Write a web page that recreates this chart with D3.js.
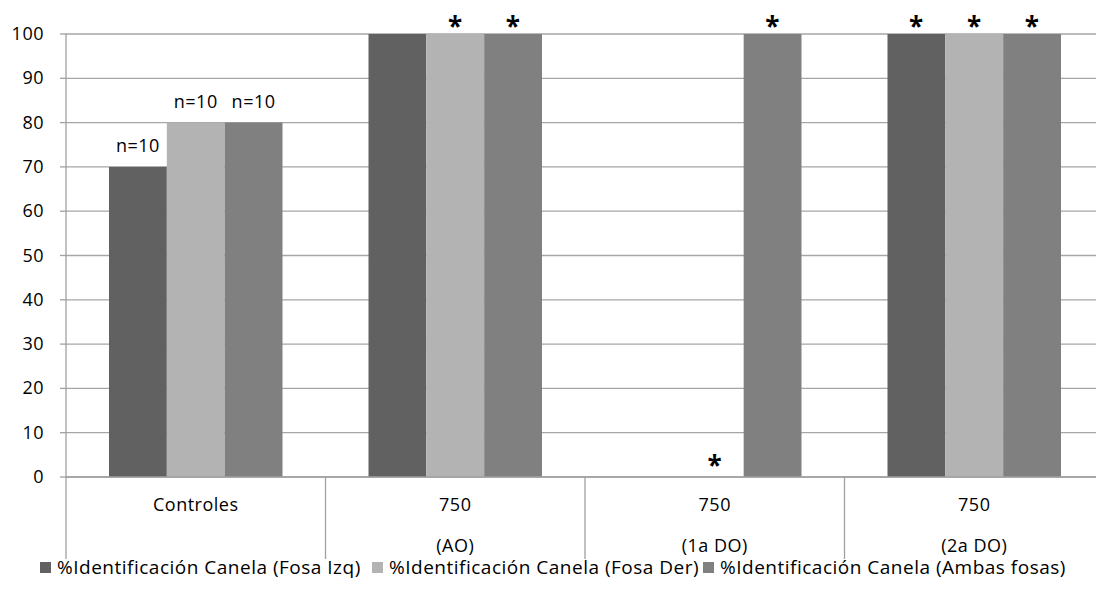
<!doctype html>
<html>
  <head>
    <meta charset="utf-8">
    <script src="https://cdnjs.cloudflare.com/ajax/libs/d3/7.8.5/d3.min.js"></script>
    <style>
      body { margin: 0; background: #fff; }
      text { font-family: "Open Sans", sans-serif; fill: #000; letter-spacing: 0.5px; }
    </style>
  </head>
  <body>
    <svg width="1096" height="603"></svg>
    <script>
        // categories (two-line labels) and series
        var categories = ["Controles", "750 (AO)", "750 (1a DO)", "750 (2a DO)"];
        var catLine1 = ["Controles", "750", "750", "750"];
        var catLine2 = ["", "(AO)", "(1a DO)", "(2a DO)"];
        var seriesNames = ["%Identificación Canela (Fosa Izq)",
                           "%Identificación Canela (Fosa Der)",
                           "%Identificación Canela (Ambas fosas)"];
        var fosaIzq    = [70, 100, 0, 100];
        var fosaDer    = [80, 100, 0, 100];
        var ambasFosas = [80, 100, 100, 100];
        var labelsIzq   = ["n=10", "", "", "*"];
        var labelsDer   = ["n=10", "*", "*", "*"];
        var labelsAmbas = ["n=10", "*", "*", "*"];
        var yTicks = [0, 10, 20, 30, 40, 50, 60, 70, 80, 90, 100];
        var colours = ["#616161", "#b3b3b3", "#808080"];

        var allValues = [fosaIzq, fosaDer, ambasFosas];
        var allLabels = [labelsIzq, labelsDer, labelsAmbas];

        var svg = d3.select("svg");
        var plotLeft = 66, plotRight = 1104, plotTop = 34, plotBottom = 477;

        var x0 = d3.scaleBand().domain(categories).range([plotLeft, plotRight]);
        var x1 = d3.scaleBand().domain([0, 1, 2]).range([43, x0.bandwidth() - 43]);
        var y = d3.scaleLinear().domain([0, 100]).range([plotBottom, plotTop]);

        // gridlines
        svg.append("g")
            .selectAll("line")
            .data(yTicks)
            .enter()
            .append("line")
                .attr("x1", plotLeft).attr("x2", plotRight)
                .attr("y1", d => y(d)).attr("y2", d => y(d))
                .attr("stroke", "#a6a6a6").attr("stroke-width", 1.3);

        // bars
        var rows = [];
        categories.forEach((c, i) => {
            allValues.forEach((s, j) => rows.push({cat: c, s: j, v: s[i], label: allLabels[j][i]}));
        });

        svg.append("g")
            .selectAll("rect")
            .data(rows)
            .enter()
            .append("rect")
                .attr("x", d => x0(d.cat) + x1(d.s))
                .attr("y", d => y(d.v))
                .attr("width", x1.bandwidth())
                .attr("height", d => y(0) - y(d.v))
                .style("fill", d => colours[d.s]);

        // data labels
        svg.append("g")
            .selectAll("text")
            .data(rows.filter(d => d.label))
            .enter()
            .append("text")
                .attr("x", d => x0(d.cat) + x1(d.s) + x1.bandwidth() / 2)
                .attr("y", d => d.label == "*" ? y(d.v) + (d.v == 0 ? -2 : 2) : y(d.v) - 15)
                .attr("text-anchor", "middle")
                .style("font-size", d => d.label == "*" ? "26px" : "18px")
                .style("font-weight", d => d.label == "*" ? "bold" : "normal")
                .text(d => d.label);

        // y axis
        svg.append("line")
            .attr("x1", plotLeft).attr("x2", plotLeft)
            .attr("y1", plotTop).attr("y2", plotBottom)
            .attr("stroke", "#a0a0a0").attr("stroke-width", 1.3);
        svg.append("g")
            .selectAll("line")
            .data(yTicks)
            .enter()
            .append("line")
                .attr("x1", plotLeft - 6).attr("x2", plotLeft)
                .attr("y1", d => y(d)).attr("y2", d => y(d))
                .attr("stroke", "#a0a0a0").attr("stroke-width", 1.3);
        svg.append("g")
            .selectAll("text")
            .data(yTicks)
            .enter()
            .append("text")
                .attr("x", 44)
                .attr("y", d => y(d) + 6)
                .attr("text-anchor", "end")
                .style("font-size", "18px")
                .text(d => d);

        // x axis with category separators
        svg.append("line")
            .attr("x1", plotLeft).attr("x2", plotRight)
            .attr("y1", plotBottom).attr("y2", plotBottom)
            .attr("stroke", "#a0a0a0").attr("stroke-width", 1.3);
        svg.append("g")
            .selectAll("line")
            .data(categories)
            .enter()
            .append("line")
                .attr("x1", d => x0(d)).attr("x2", d => x0(d))
                .attr("y1", plotBottom).attr("y2", 559)
                .attr("stroke", "#a0a0a0").attr("stroke-width", 1.3);
        var catG = svg.append("g")
            .selectAll("g")
            .data(categories)
            .enter()
            .append("g");
        catG.append("text")
            .attr("x", d => x0(d) + x0.bandwidth() / 2)
            .attr("y", 511)
            .attr("text-anchor", "middle")
            .style("font-size", "18px")
            .text((d, i) => catLine1[i]);
        catG.append("text")
            .attr("x", d => x0(d) + x0.bandwidth() / 2)
            .attr("y", 552)
            .attr("text-anchor", "middle")
            .style("font-size", "18px")
            .text((d, i) => catLine2[i]);

        // legend
        var legendX = [40, 372, 703];
        var leg = svg.append("g")
            .selectAll("g")
            .data(seriesNames)
            .enter()
            .append("g")
                .attr("transform", (d, i) => "translate(" + legendX[i] + ",562)");
        leg.append("rect")
            .attr("width", 11).attr("height", 11)
            .style("fill", (d, i) => colours[i]);
        leg.append("text")
            .attr("x", 17).attr("y", 12)
            .style("font-size", "19px")
            .text(d => d);
    </script>
  </body>
</html>
